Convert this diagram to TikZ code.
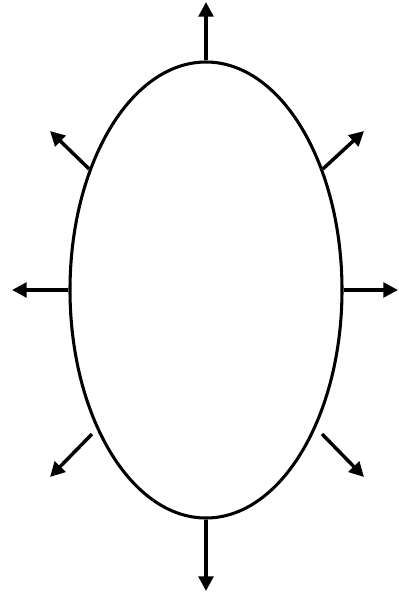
\documentclass[tikz,border=0pt]{standalone}
\usepackage{tikz}
\usetikzlibrary{arrows.meta, shapes.geometric}

\tikzset{
  ray/.style={line width=2.6pt, -{Triangle[length=11pt, width=11pt]}}
}

\begin{document}
\begin{tikzpicture}[x=0.75pt, y=-0.75pt]
  \useasboundingbox (0,0) rectangle (399,594);
  \node[draw, ellipse, line width=2.3pt, inner sep=0pt, minimum width=204pt, minimum height=342pt] (body) at (206,290) {};
  % free ends of the rays
  \coordinate (tipN) at (206,2);
  \coordinate (tipS) at (206,591);
  \coordinate (tipW) at (12,290);
  \coordinate (tipE) at (398,290);
  \coordinate (tipNW) at (50,131);
  \coordinate (tipNE) at (364,131);
  \coordinate (tipSW) at (50,477);
  \coordinate (tipSE) at (364,477);
  \draw[ray] (body.north) -- (tipN);
  \draw[ray] (body.south) -- (tipS);
  \draw[ray] (body.west) -- (tipW);
  \draw[ray] (body.east) -- (tipE);
  \draw[ray] (body.134) -- (tipNW);
  \draw[ray] (body.46) -- (tipNE);
  \draw[ray] ([shift={(-114,144)}]body.center) -- (tipSW);
  \draw[ray] ([shift={(116,144)}]body.center) -- (tipSE);
\end{tikzpicture}
\end{document}
